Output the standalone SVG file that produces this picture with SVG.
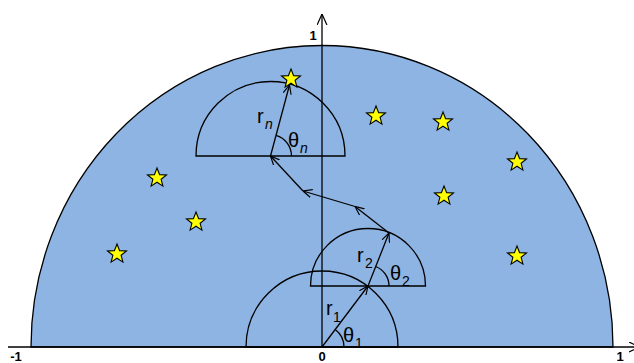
<svg xmlns="http://www.w3.org/2000/svg" width="634" height="363" viewBox="0 0 634 363">
<defs>
<style>
.ln{fill:none;stroke:#000;stroke-width:1.3}
.star{fill:#FFFF00;stroke:#000;stroke-width:1.1;stroke-linejoin:miter}
.lbl{font-family:"Liberation Sans",Arial,sans-serif;font-size:20px;fill:#000}
.sub{font-family:"Liberation Sans",Arial,sans-serif;font-size:14px;fill:#000}
.ax{font-family:"Liberation Sans",Arial,sans-serif;font-size:13px;font-weight:bold;fill:#000}
</style>
<marker id="arr" viewBox="0 0 10 10" refX="10" refY="5" markerWidth="9" markerHeight="9" markerUnits="userSpaceOnUse" orient="auto">
<path d="M0,0.5 L10,5 L0,9.5" fill="none" stroke="#000" stroke-width="1.3"/>
</marker>
<marker id="arrB" viewBox="0 0 10 10" refX="10" refY="5" markerWidth="11" markerHeight="11" markerUnits="userSpaceOnUse" orient="auto">
<path d="M0,0.5 L10,5 L0,9.5" fill="none" stroke="#000" stroke-width="1.1"/>
</marker>
<polygon id="st" points="0,-10 2.6,-3.4 9.5,-3.1 4.1,1.3 5.9,8.1 0,4.2 -5.9,8.1 -4.1,1.3 -9.5,-3.1 -2.6,-3.4"/>
</defs>
<g id="disk">
<path d="M31,347 A291,301.5 0 0 1 613,347 Z" fill="#8EB4E3" stroke="#000" stroke-width="1.3"/>
</g>
<g id="axes">
<line class="ln" x1="8" y1="347" x2="640" y2="347" marker-end="url(#arrB)"/>
<line class="ln" x1="322" y1="347" x2="322" y2="14" marker-end="url(#arrB)"/>
<text class="ax" x="313" y="40" text-anchor="middle">1</text>
<text class="ax" x="16" y="361" text-anchor="middle">-1</text>
<text class="ax" x="322" y="361" text-anchor="middle">0</text>
<text class="ax" x="620" y="361" text-anchor="middle">1</text>
</g>
<g id="step1">
<path class="ln" d="M246,347 A76,76 0 0 1 398,347 Z"/>
<path class="ln" d="M344,347 A22,22 0 0 0 335.2,329.4"/>
<text class="lbl" x="326" y="315">r</text><text class="sub" x="333" y="322">1</text>
<text class="lbl" x="343" y="342">θ</text><text class="sub" x="355" y="348">1</text>
</g>
<g id="step2">
<path class="ln" d="M310.5,286 A57.5,57.5 0 0 1 425.5,286 Z"/>
<path class="ln" d="M389,286 A21,21 0 0 0 375.7,266.5"/>
<text class="lbl" x="357" y="262">r</text><text class="sub" x="365" y="268">2</text>
<text class="lbl" x="390" y="280">θ</text><text class="sub" x="402" y="286">2</text>
</g>
<g id="stepn">
<path class="ln" d="M196,156 A74.5,74.5 0 0 1 345,156 Z"/>
<path class="ln" d="M291.5,156 A21.5,21.5 0 0 0 276,135.3"/>
<text class="lbl" x="257" y="123">r</text><text class="sub" x="265" y="129" font-style="italic">n</text>
<text class="lbl" x="288" y="147">θ</text><text class="sub" x="300" y="153" font-style="italic">n</text>
</g>
<g id="connectors">
<line class="ln" x1="322" y1="347" x2="368" y2="286" marker-end="url(#arr)"/>
<line class="ln" x1="368" y1="286" x2="389" y2="233" marker-end="url(#arr)"/>
<line class="ln" x1="389" y1="233" x2="355" y2="206.5" marker-end="url(#arr)"/>
<line class="ln" x1="355" y1="206.5" x2="303" y2="191" marker-end="url(#arr)"/>
<line class="ln" x1="303" y1="191" x2="270.5" y2="156" marker-end="url(#arr)"/>
<line class="ln" x1="270.5" y1="156" x2="289.5" y2="85" marker-end="url(#arr)"/>
</g>
<g id="stars">
<use href="#st" class="star" x="291" y="79"/>
<use href="#st" class="star" x="376" y="116"/>
<use href="#st" class="star" x="443" y="122"/>
<use href="#st" class="star" x="517" y="162"/>
<use href="#st" class="star" x="444" y="196"/>
<use href="#st" class="star" x="517" y="256"/>
<use href="#st" class="star" x="157" y="178"/>
<use href="#st" class="star" x="196" y="222"/>
<use href="#st" class="star" x="117" y="254"/>
</g>
</svg>
